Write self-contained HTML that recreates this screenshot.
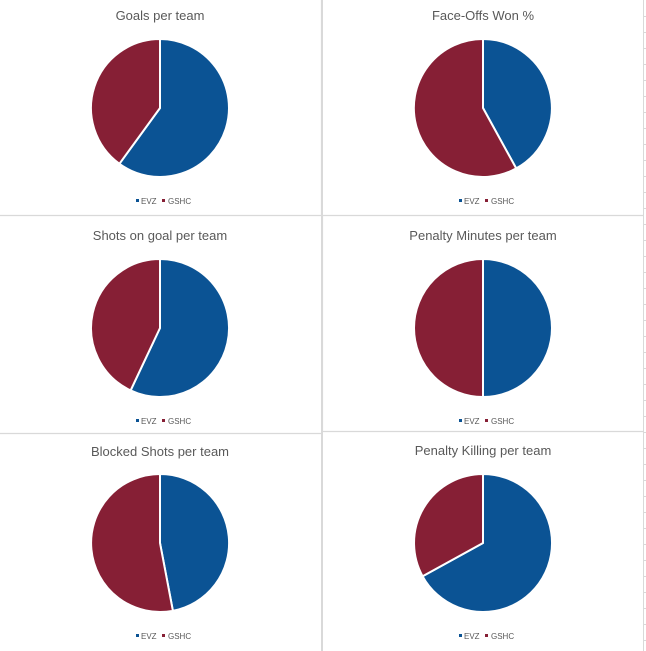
<!DOCTYPE html>
<html><head><style>
html,body{margin:0;padding:0;background:#fff;}
svg{display:block;font-family:"Liberation Sans",Calibri,sans-serif;}
</style></head><body>
<svg width="646" height="651" viewBox="0 0 646 651" xmlns="http://www.w3.org/2000/svg">
<!-- right-side sheet gridlines -->
<g stroke="#d9d9d9" stroke-width="1">
<line x1="643.5" y1="0" x2="643.5" y2="651"/>
<g id="ticks"></g>
</g>
<g stroke="#d9d9d9" stroke-width="1">
<line x1="644" y1="16.5" x2="646" y2="16.5"/><line x1="644" y1="32.5" x2="646" y2="32.5"/><line x1="644" y1="48.5" x2="646" y2="48.5"/><line x1="644" y1="64.5" x2="646" y2="64.5"/><line x1="644" y1="80.5" x2="646" y2="80.5"/><line x1="644" y1="96.5" x2="646" y2="96.5"/><line x1="644" y1="112.5" x2="646" y2="112.5"/><line x1="644" y1="128.5" x2="646" y2="128.5"/><line x1="644" y1="144.5" x2="646" y2="144.5"/><line x1="644" y1="160.5" x2="646" y2="160.5"/><line x1="644" y1="176.5" x2="646" y2="176.5"/><line x1="644" y1="192.5" x2="646" y2="192.5"/><line x1="644" y1="208.5" x2="646" y2="208.5"/><line x1="644" y1="224.5" x2="646" y2="224.5"/><line x1="644" y1="240.5" x2="646" y2="240.5"/><line x1="644" y1="256.5" x2="646" y2="256.5"/><line x1="644" y1="272.5" x2="646" y2="272.5"/><line x1="644" y1="288.5" x2="646" y2="288.5"/><line x1="644" y1="304.5" x2="646" y2="304.5"/><line x1="644" y1="320.5" x2="646" y2="320.5"/><line x1="644" y1="336.5" x2="646" y2="336.5"/><line x1="644" y1="352.5" x2="646" y2="352.5"/><line x1="644" y1="368.5" x2="646" y2="368.5"/><line x1="644" y1="384.5" x2="646" y2="384.5"/><line x1="644" y1="400.5" x2="646" y2="400.5"/><line x1="644" y1="416.5" x2="646" y2="416.5"/><line x1="644" y1="432.5" x2="646" y2="432.5"/><line x1="644" y1="448.5" x2="646" y2="448.5"/><line x1="644" y1="464.5" x2="646" y2="464.5"/><line x1="644" y1="480.5" x2="646" y2="480.5"/><line x1="644" y1="496.5" x2="646" y2="496.5"/><line x1="644" y1="512.5" x2="646" y2="512.5"/><line x1="644" y1="528.5" x2="646" y2="528.5"/><line x1="644" y1="544.5" x2="646" y2="544.5"/><line x1="644" y1="560.5" x2="646" y2="560.5"/><line x1="644" y1="576.5" x2="646" y2="576.5"/><line x1="644" y1="592.5" x2="646" y2="592.5"/><line x1="644" y1="608.5" x2="646" y2="608.5"/><line x1="644" y1="624.5" x2="646" y2="624.5"/><line x1="644" y1="640.5" x2="646" y2="640.5"/>
</g>
<!-- chart frames -->
<g stroke="#d9d9d9" stroke-width="1.2" fill="none">
<line x1="321.5" y1="0" x2="321.5" y2="216"/>
<line x1="0" y1="215.5" x2="322" y2="215.5"/>
<line x1="322" y1="215.5" x2="644" y2="215.5"/>
<line x1="322.5" y1="216" x2="322.5" y2="432"/>
<line x1="0" y1="433.5" x2="322" y2="433.5"/>
<line x1="322" y1="431.5" x2="644" y2="431.5"/>
<line x1="322" y1="0" x2="322" y2="651" stroke-width="2"/>
</g>
<g fill="#595959" font-size="13" text-anchor="middle">
<text x="160" y="20">Goals per team</text>
<text x="483" y="20">Face-Offs Won %</text>
<text x="160" y="240">Shots on goal per team</text>
<text x="483" y="240">Penalty Minutes per team</text>
<text x="160" y="456">Blocked Shots per team</text>
<text x="483" y="455">Penalty Killing per team</text>
</g>
<g stroke="#fff" stroke-width="2" stroke-linejoin="round">
<!-- 1 -->
<path d="M160,108 L160,39 A69,69 0 1 1 119.4,163.8 Z" fill="#0B5394"/>
<path d="M160,108 L119.4,163.8 A69,69 0 0 1 160,39 Z" fill="#861F35"/>
<!-- 2 -->
<path d="M483,108 L483,39 A69,69 0 0 1 516.2,168.4 Z" fill="#0B5394"/>
<path d="M483,108 L516.2,168.4 A69,69 0 1 1 483,39 Z" fill="#861F35"/>
<!-- 3 -->
<path d="M160,328 L160,259 A69,69 0 1 1 130.6,390.4 Z" fill="#0B5394"/>
<path d="M160,328 L130.6,390.4 A69,69 0 0 1 160,259 Z" fill="#861F35"/>
<!-- 4 -->
<path d="M483,328 L483,259 A69,69 0 0 1 483,397 Z" fill="#0B5394"/>
<path d="M483,328 L483,397 A69,69 0 0 1 483,259 Z" fill="#861F35"/>
<!-- 5 -->
<path d="M160,543 L160,474 A69,69 0 0 1 172.9,610.8 Z" fill="#0B5394"/>
<path d="M160,543 L172.9,610.8 A69,69 0 1 1 160,474 Z" fill="#861F35"/>
<!-- 6 -->
<path d="M483,543 L483,474 A69,69 0 1 1 422.6,576.3 Z" fill="#0B5394"/>
<path d="M483,543 L422.6,576.3 A69,69 0 0 1 483,474 Z" fill="#861F35"/>
</g>
<g font-size="8" fill="#595959">
<g transform="translate(0,0)">
<rect x="136" y="199" width="3" height="3" fill="#0B5394"/><text x="141" y="204">EVZ</text>
<rect x="162" y="199" width="3" height="3" fill="#861F35"/><text x="168" y="204">GSHC</text>
</g>
<g transform="translate(323,0)">
<rect x="136" y="199" width="3" height="3" fill="#0B5394"/><text x="141" y="204">EVZ</text>
<rect x="162" y="199" width="3" height="3" fill="#861F35"/><text x="168" y="204">GSHC</text>
</g>
<g transform="translate(0,220)">
<rect x="136" y="199" width="3" height="3" fill="#0B5394"/><text x="141" y="204">EVZ</text>
<rect x="162" y="199" width="3" height="3" fill="#861F35"/><text x="168" y="204">GSHC</text>
</g>
<g transform="translate(323,220)">
<rect x="136" y="199" width="3" height="3" fill="#0B5394"/><text x="141" y="204">EVZ</text>
<rect x="162" y="199" width="3" height="3" fill="#861F35"/><text x="168" y="204">GSHC</text>
</g>
<g transform="translate(0,435)">
<rect x="136" y="199" width="3" height="3" fill="#0B5394"/><text x="141" y="204">EVZ</text>
<rect x="162" y="199" width="3" height="3" fill="#861F35"/><text x="168" y="204">GSHC</text>
</g>
<g transform="translate(323,435)">
<rect x="136" y="199" width="3" height="3" fill="#0B5394"/><text x="141" y="204">EVZ</text>
<rect x="162" y="199" width="3" height="3" fill="#861F35"/><text x="168" y="204">GSHC</text>
</g>
</g>
</svg>
</body></html>
